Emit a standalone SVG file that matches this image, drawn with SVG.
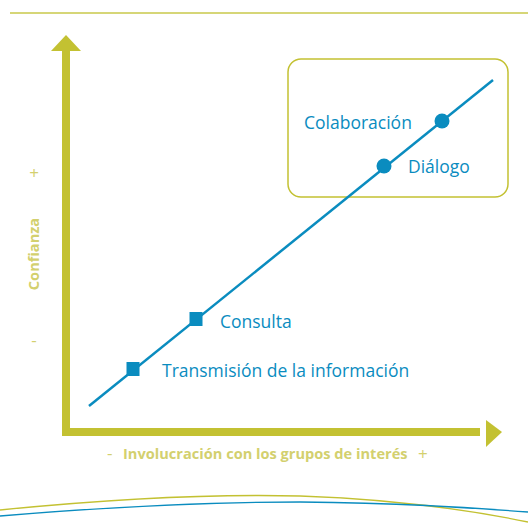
<svg xmlns="http://www.w3.org/2000/svg" width="528" height="525" viewBox="0 0 528 525">
<style>
.ax{fill:#c3c132}
.lbl{font-family:"Open Sans","Noto Sans",sans-serif;font-size:17.5px;fill:#0a8cbf}
.axl{font-family:"Open Sans","Noto Sans",sans-serif;font-size:14.6px;font-weight:bold;fill:#d3d06e}
.pm{font-family:"Open Sans","Noto Sans",sans-serif;font-size:17px;fill:#d3d06e}
.bl{fill:#0a8cbf}
</style>
<rect width="528" height="525" fill="#fff"/>
<line x1="10" y1="13" x2="528" y2="13" stroke="#c9c84a" stroke-width="1.5"/>
<g id="axes">
<rect class="ax" x="62" y="50" width="8" height="386"/>
<polygon class="ax" points="51,51 66,35 81,51"/>
<rect class="ax" x="62" y="428" width="418" height="8"/>
<polygon class="ax" points="486,420 502,432 486,447"/>
</g>
<g id="group-box">
<rect x="288" y="59" width="220" height="138" rx="13" fill="none" stroke="#c3c132" stroke-width="1.5"/>
</g>
<g id="connectors">
<line x1="89" y1="406" x2="493" y2="80" stroke="#0a8cbf" stroke-width="2.5"/>
</g>
<g id="node-transmision">
<rect class="bl" x="126.5" y="362" width="13" height="14"/>
<text class="lbl" x="162" y="377">Transmisión de la información</text>
</g>
<g id="node-consulta">
<rect class="bl" x="189.5" y="312" width="13" height="14"/>
<text class="lbl" x="220" y="328">Consulta</text>
</g>
<g id="node-dialogo">
<circle class="bl" cx="384" cy="166" r="7.5"/>
<text class="lbl" x="408" y="173">Diálogo</text>
</g>
<g id="node-colaboracion">
<circle class="bl" cx="442" cy="121" r="7.5"/>
<text class="lbl" x="304" y="129">Colaboración</text>
</g>
<text class="pm" x="107" y="459">-</text>
<text class="axl" x="123" y="459">Involucración con los grupos de interés</text>
<text class="pm" x="418" y="460">+</text>
<text class="axl" x="0" y="0" transform="translate(39,254) rotate(-90)" text-anchor="middle">Confianza</text>
<text class="pm" x="34" y="179" text-anchor="middle">+</text>
<text class="pm" x="34" y="346" text-anchor="middle">-</text>
<path d="M0,510 C120,498 220,494 300,496 C390,499 460,508 528,522" fill="none" stroke="#c3c132" stroke-width="1.3"/>
<path d="M0,516 C120,506 220,502 300,502 C400,503 460,507 528,512" fill="none" stroke="#0a8cbf" stroke-width="1.3"/>
</svg>
